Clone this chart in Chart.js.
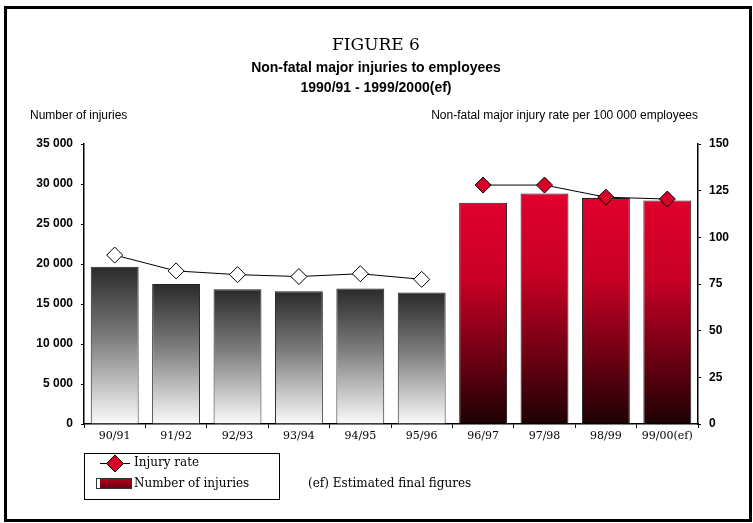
<!DOCTYPE html>
<html>
<head>
<meta charset="utf-8">
<script src="https://cdn.jsdelivr.net/npm/chart.js@4/dist/chart.umd.min.js"></script>
<style>
  html, body { margin: 0; padding: 0; background: #fff; }
  canvas { display: block; }
</style>
</head>
<body>
<canvas id="injuryChart" width="753" height="523"></canvas>
<script>
// Years (financial years) shown on the x axis
const years = ['90/91', '91/92', '92/93', '93/94', '94/95', '95/96', '96/97', '97/98', '98/99', '99/00(ef)'];
// Number of non-fatal major injuries (left axis)
const injuries = [19650, 17500, 16850, 16600, 16950, 16450, 27650, 28800, 28250, 27950];
// Injury rate per 100 000 employees (right axis)
const injuryRates = [90.5, 82, 80, 79, 80.5, 77.5, 128, 128, 121.5, 120.5];
// From 96/97 onwards the bars and markers turn red (and the line is broken there)
const firstRedIndex = 6;

const RED = '#d6002b';
const serif = '"DejaVu Serif", "Liberation Serif", serif';
const sans = '"Liberation Sans", Arial, sans-serif';

// Format numbers like "35 000"
function spaced(n) {
    return String(n).replace(/\B(?=(\d{3})+(?!\d))/g, ' ');
}

// Vertical gradient running over the height of each bar
function barFill(context) {
    const chart = context.chart;
    const area = chart.chartArea;
    if (!area || context.dataIndex === undefined) return '#888';
    const yScale = chart.scales.y;
    const top = yScale.getPixelForValue(injuries[context.dataIndex]);
    const bottom = yScale.getPixelForValue(0);
    const g = chart.ctx.createLinearGradient(0, top, 0, bottom);
    if (context.dataIndex >= firstRedIndex) {
        g.addColorStop(0, '#e0002e');
        g.addColorStop(0.35, '#c80026');
        g.addColorStop(0.7, '#6e0012');
        g.addColorStop(1, '#1c0204');
    } else {
        g.addColorStop(0, '#2a2a2a');
        g.addColorStop(0.45, '#7c7c7c');
        g.addColorStop(1, '#fbfbfb');
    }
    return g;
}

const pointColors = injuryRates.map((v, i) => i >= firstRedIndex ? RED : '#ffffff');

// White background, frame, titles, axis captions and legend
const decorations = {
    id: 'decorations',
    beforeDraw(chart) {
        const ctx = chart.ctx;
        ctx.save();
        ctx.fillStyle = '#fff';
        ctx.fillRect(0, 0, chart.width, chart.height);
        ctx.restore();
    },
    afterDraw(chart) {
        const ctx = chart.ctx;
        const area = chart.chartArea;
        ctx.save();

        // outer frame
        ctx.strokeStyle = '#000';
        ctx.lineWidth = 3;
        ctx.strokeRect(5.5, 7.5, 745, 513);

        // titles
        ctx.fillStyle = '#000';
        ctx.textAlign = 'center';
        ctx.textBaseline = 'middle';
        ctx.font = '17px ' + serif;
        ctx.fillText('FIGURE 6', 376, 46);
        ctx.font = 'bold 14px ' + sans;
        ctx.fillText('Non-fatal major injuries to employees', 376, 68);
        ctx.fillText('1990/91 - 1999/2000(ef)', 376, 88);

        // axis captions
        ctx.font = '12px ' + sans;
        ctx.textAlign = 'left';
        ctx.fillText('Number of injuries', 30, 116);
        ctx.textAlign = 'right';
        ctx.fillText('Non-fatal major injury rate per 100 000 employees', area.right, 116);

        // legend box
        ctx.lineWidth = 1;
        ctx.strokeRect(84.5, 453.5, 195, 46);

        ctx.beginPath();
        ctx.moveTo(100, 463.5);
        ctx.lineTo(130, 463.5);
        ctx.stroke();
        ctx.beginPath();
        ctx.moveTo(115, 455);
        ctx.lineTo(123.5, 463.5);
        ctx.lineTo(115, 472);
        ctx.lineTo(106.5, 463.5);
        ctx.closePath();
        ctx.fillStyle = RED;
        ctx.fill();
        ctx.stroke();

        const sw = ctx.createLinearGradient(0, 478, 0, 490);
        sw.addColorStop(0, '#b8001e');
        sw.addColorStop(1, '#5a000e');
        ctx.fillStyle = sw;
        ctx.fillRect(96, 478, 36, 11);
        ctx.fillStyle = '#fff';
        ctx.fillRect(97, 479, 3, 9);
        ctx.strokeStyle = '#333';
        ctx.strokeRect(96.5, 478.5, 35, 10);

        ctx.fillStyle = '#000';
        ctx.textAlign = 'left';
        ctx.font = '12px ' + serif;
        ctx.fillText('Injury rate', 134, 463);
        ctx.fillText('Number of injuries', 134, 484);
        ctx.fillText('(ef) Estimated final figures', 308, 484);

        ctx.restore();
    }
};

const ctx = document.getElementById('injuryChart').getContext('2d');
const chart = new Chart(ctx, {
    type: 'bar',
    data: {
        labels: years,
        datasets: [{
            type: 'line',
            label: 'Injury rate',
            data: injuryRates,
            yAxisID: 'y1',
            order: 0,
            borderColor: '#000',
            borderWidth: 1,
            tension: 0,
            // no joining segment between 95/96 and 96/97
            segment: {
                borderColor: c => c.p1DataIndex === firstRedIndex ? 'rgba(0,0,0,0)' : '#000'
            },
            pointStyle: 'rectRot',
            pointRadius: 8,
            pointHoverRadius: 8,
            pointBorderWidth: 1,
            pointBorderColor: '#000',
            pointBackgroundColor: pointColors
        }, {
            type: 'bar',
            label: 'Number of injuries',
            data: injuries,
            yAxisID: 'y',
            order: 1,
            backgroundColor: barFill,
            borderColor: '#222',
            borderWidth: 1,
            barPercentage: 0.78,
            categoryPercentage: 1
        }]
    },
    options: {
        responsive: false,
        animation: false,
        devicePixelRatio: 1,
        layout: { padding: { top: 144, left: 0, right: 0, bottom: 0 } },
        plugins: {
            legend: { display: false },
            title: { display: false },
            tooltip: { enabled: false }
        },
        scales: {
            x: {
                afterFit(scale) { scale.height = 99; },
                grid: { drawOnChartArea: false, drawTicks: true, tickLength: 4, color: '#000', offset: true },
                border: { display: true, color: '#000', width: 1.5 },
                ticks: {
                    color: '#000',
                    padding: 2,
                    maxRotation: 0,
                    autoSkip: false,
                    font: { family: serif, size: 11 }
                }
            },
            y: {
                position: 'left',
                min: 0,
                max: 35000,
                afterFit(scale) { scale.width = 84; },
                grid: { drawOnChartArea: false, drawTicks: true, tickLength: 3, color: '#000' },
                border: { display: true, color: '#000', width: 1.5 },
                ticks: {
                    stepSize: 5000,
                    color: '#000',
                    padding: 8,
                    font: { family: sans, size: 12, weight: 'bold' },
                    callback: v => spaced(v)
                }
            },
            y1: {
                position: 'right',
                min: 0,
                max: 150,
                afterFit(scale) { scale.width = 55; },
                grid: { drawOnChartArea: false, drawTicks: true, tickLength: 3, color: '#000' },
                border: { display: true, color: '#000', width: 1.5 },
                ticks: {
                    stepSize: 25,
                    color: '#000',
                    padding: 8,
                    font: { family: sans, size: 12, weight: 'bold' }
                }
            }
        }
    },
    plugins: [decorations]
});
</script>
</body>
</html>
